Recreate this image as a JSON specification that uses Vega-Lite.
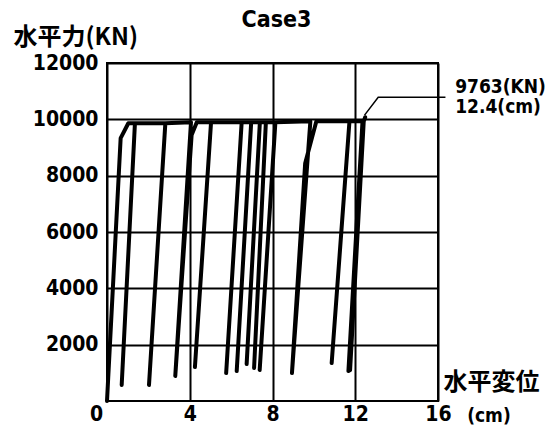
{
  "$schema": "https://vega.github.io/schema/vega-lite/v6.json",
  "autosize": {"type": "none"},
  "padding": {"left": 107, "top": 63, "right": 121, "bottom": 27},
  "width": 331,
  "height": 338,
  "background": "white",
  "config": {
    "view": {"stroke": "black", "strokeWidth": 2},
    "font": "DejaVu Sans Condensed"
  },
  "title": {
    "text": "Case3",
    "frame": "group",
    "anchor": "middle",
    "baseline": "alphabetic",
    "offset": 0,
    "dy": 25,
    "dx": 4,
    "font": "DejaVu Sans Condensed",
    "fontSize": 23,
    "fontWeight": "bold",
    "color": "black"
  },
  "datasets": {
    "curve": [
      {"i": 1, "d": 0, "F": 0},
      {"i": 2, "d": 0.66, "F": 9330},
      {"i": 3, "d": 1.03, "F": 9860},
      {"i": 4, "d": 1.35, "F": 9860},
      {"i": 5, "d": 0.71, "F": 568},
      {"i": 6, "d": 1.35, "F": 9860},
      {"i": 7, "d": 2.82, "F": 9860},
      {"i": 8, "d": 2.03, "F": 568},
      {"i": 9, "d": 2.82, "F": 9860},
      {"i": 10, "d": 4.06, "F": 9900},
      {"i": 11, "d": 3.30, "F": 887},
      {"i": 12, "d": 4.09, "F": 9440},
      {"i": 13, "d": 4.34, "F": 9900},
      {"i": 14, "d": 5.03, "F": 9900},
      {"i": 15, "d": 4.25, "F": 1206},
      {"i": 16, "d": 5.03, "F": 9900},
      {"i": 17, "d": 6.51, "F": 9900},
      {"i": 18, "d": 5.76, "F": 993},
      {"i": 19, "d": 6.51, "F": 9900},
      {"i": 20, "d": 6.97, "F": 9900},
      {"i": 21, "d": 6.27, "F": 1064},
      {"i": 22, "d": 6.97, "F": 9900},
      {"i": 23, "d": 7.39, "F": 9900},
      {"i": 24, "d": 6.75, "F": 1313},
      {"i": 25, "d": 7.39, "F": 9900},
      {"i": 26, "d": 7.68, "F": 9900},
      {"i": 27, "d": 7.11, "F": 1171},
      {"i": 28, "d": 7.68, "F": 9900},
      {"i": 29, "d": 8.14, "F": 9900},
      {"i": 30, "d": 7.38, "F": 1100},
      {"i": 31, "d": 8.14, "F": 9900},
      {"i": 32, "d": 9.83, "F": 9930},
      {"i": 33, "d": 8.94, "F": 993},
      {"i": 34, "d": 9.58, "F": 8443},
      {"i": 35, "d": 10.12, "F": 9930},
      {"i": 36, "d": 11.72, "F": 9930},
      {"i": 37, "d": 10.86, "F": 1348},
      {"i": 38, "d": 11.72, "F": 9930},
      {"i": 39, "d": 12.35, "F": 9930},
      {"i": 40, "d": 11.67, "F": 1064},
      {"i": 41, "d": 11.75, "F": 1100},
      {"i": 42, "d": 12.41, "F": 9930},
      {"i": 43, "d": 12.48, "F": 10075}
    ],
    "leader": [
      {"i": 1, "d": 12.45, "F": 10150},
      {"i": 2, "d": 13.11, "F": 10784},
      {"i": 3, "d": 16.36, "F": 10784}
    ],
    "notes": [
      {"d": 16.83, "F": 11160, "label": "9763(KN)"},
      {"d": 16.83, "F": 10430, "label": "12.4(cm)"},
      {"d": 17.41, "F": -532, "label": "(cm)"}
    ]
  },
  "layer": [
    {
      "data": {"name": "curve"},
      "mark": {"type": "line", "color": "black", "strokeWidth": 4, "strokeJoin": "round", "strokeCap": "round"},
      "encoding": {
        "x": {
          "field": "d", "type": "quantitative",
          "scale": {"domain": [0, 16], "nice": false, "zero": false},
          "axis": {
            "values": [0, 4, 8, 12, 16],
            "domain": false, "ticks": false,
            "grid": true, "gridColor": "black", "gridWidth": 2, "gridOpacity": 1,
            "labelFont": "DejaVu Sans Condensed", "labelFontSize": 21, "labelFontWeight": "bold", "labelColor": "black",
            "labelPadding": 2, "labelFlush": false,
            "labelOffset": {"condition": {"test": "datum.value == 0", "value": -11}, "value": 0},
            "title": "水平変位",
            "titleFont": "Noto Sans CJK JP", "titleFontSize": 24, "titleFontWeight": "bold", "titleColor": "black",
            "titleAlign": "left", "titleBaseline": "top", "titleAngle": 0,
            "titleX": 336, "titleY": -31
          }
        },
        "y": {
          "field": "F", "type": "quantitative",
          "scale": {"domain": [0, 12000], "nice": false},
          "axis": {
            "values": [2000, 4000, 6000, 8000, 10000, 12000],
            "domain": false, "ticks": false,
            "grid": true, "gridColor": "black", "gridWidth": 2, "gridOpacity": 1,
            "labelFont": "DejaVu Sans Condensed", "labelFontSize": 21, "labelFontWeight": "bold", "labelColor": "black",
            "labelPadding": 9, "format": "d",
            "title": "水平力(KN)",
            "titleFont": "Noto Sans CJK JP", "titleFontSize": 24, "titleFontWeight": "bold", "titleColor": "black",
            "titleAlign": "left", "titleBaseline": "top", "titleAngle": 0,
            "titleX": -94, "titleY": -38
          }
        },
        "order": {"field": "i", "type": "quantitative"}
      }
    },
    {
      "data": {"name": "leader"},
      "mark": {"type": "line", "color": "black", "strokeWidth": 1.5},
      "encoding": {
        "x": {"field": "d", "type": "quantitative"},
        "y": {"field": "F", "type": "quantitative"},
        "order": {"field": "i", "type": "quantitative"}
      }
    },
    {
      "data": {"name": "notes"},
      "mark": {"type": "text", "align": "left", "baseline": "middle", "font": "DejaVu Sans Condensed", "fontSize": 19, "fontWeight": "bold", "color": "black"},
      "encoding": {
        "x": {"field": "d", "type": "quantitative"},
        "y": {"field": "F", "type": "quantitative"},
        "text": {"field": "label"}
      }
    }
  ]
}
